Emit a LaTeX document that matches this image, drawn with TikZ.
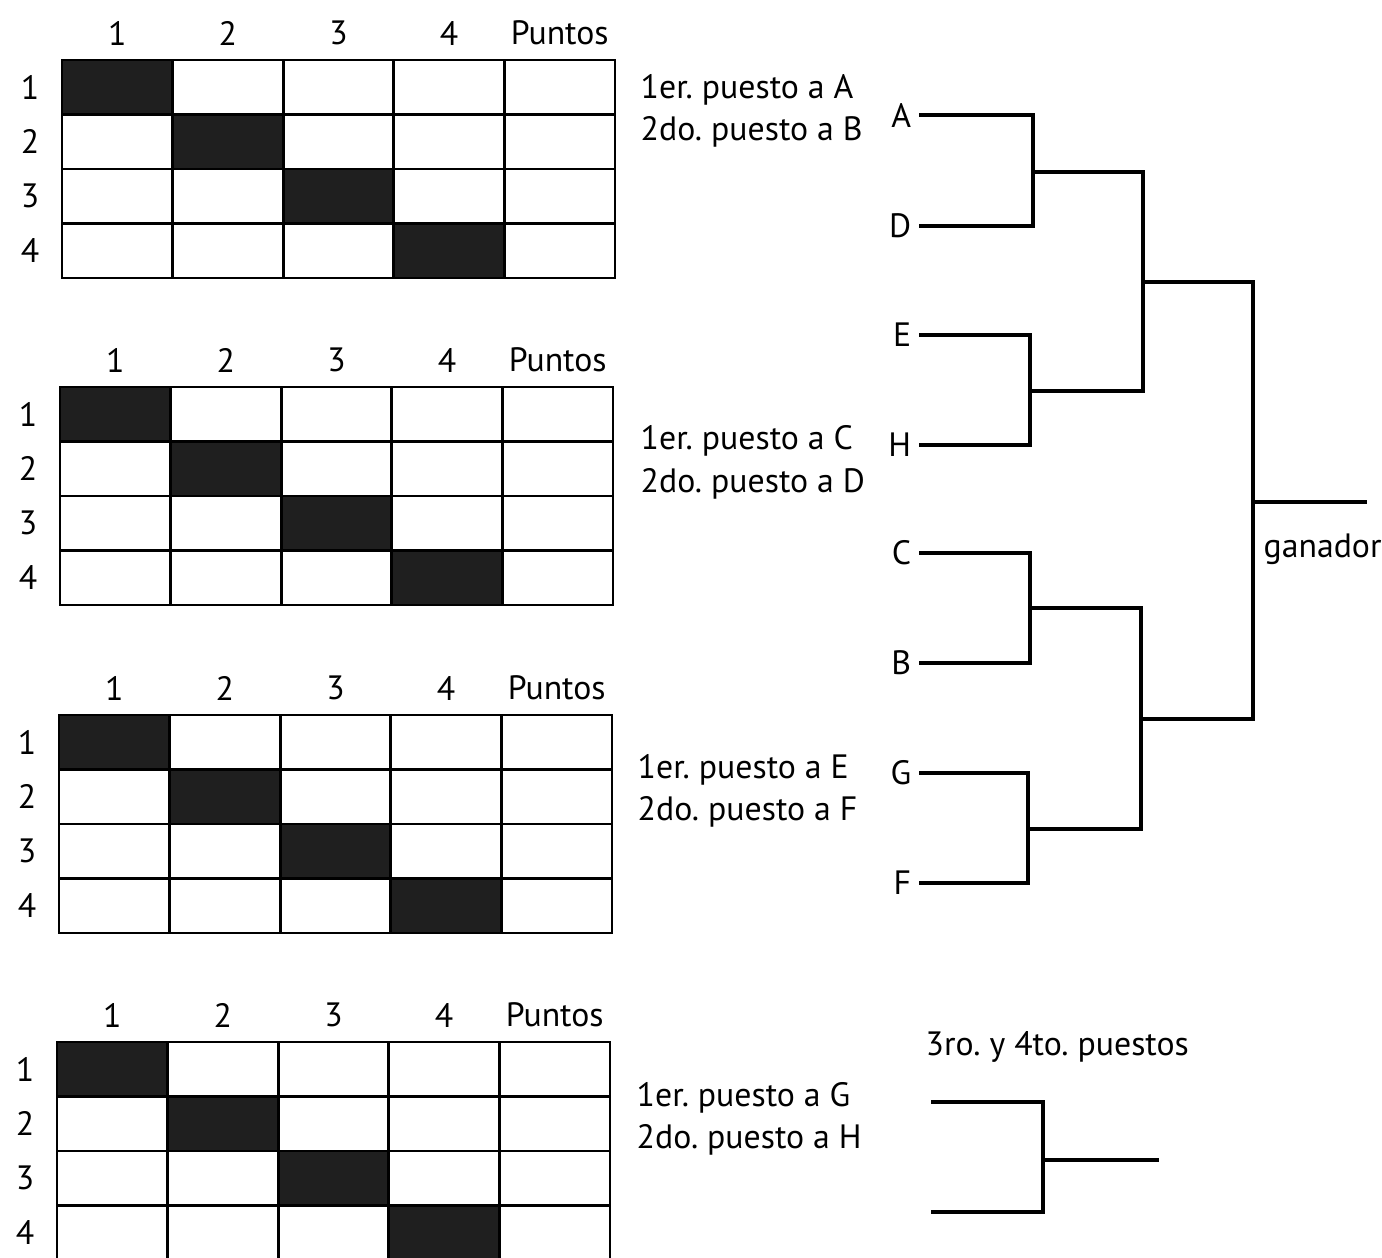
\documentclass[tikz,border=0pt]{standalone}
\usepackage{fontspec}
\setmainfont{PT Sans}
\frenchspacing
\tikzset{
  gridline/.style={line width=0.8pt, line cap=rect},
  darkcell/.style={fill=black!88},
  lbl/.style={font=\fontsize{9.6}{11.5}\selectfont, inner sep=0pt},
  team/.style={lbl, anchor=east, inner xsep=2.6pt},
  bline/.style={line width=0.9pt, line cap=rect},
}
\newcommand\rrtable[3]{%
  \foreach \i in {0,...,3}
    \fill[darkcell] ({#1+\i*110.6},{#2+\i*54.5}) rectangle ++(110.6,54.5);
  \foreach \i in {0,...,5}
    \draw[gridline] ({#1+\i*110.6},#2) -- ++(0,218);
  \foreach \j in {0,...,4}
    \draw[gridline] (#1,{#2+\j*54.5}) -- ++(553,0);
  \foreach \t [count=\k] in {1,2,3,4,Puntos}
    \node[lbl] (#3h\k) at ({#1+(\k-0.5)*110.6},{#2-27}) {\t};
  \foreach \k in {1,...,4}
    \node[lbl] (#3r\k) at ({#1-32},{#2+(\k-0.5)*54.5}) {\k};
}
\begin{document}
\begin{tikzpicture}[x=0.01cm, y=-0.01cm]
\useasboundingbox (0,0) rectangle (1382,1257);
% round-robin tables
\rrtable{62}{60}{ta}
\rrtable{60}{387}{tb}
\rrtable{59}{715}{tc}
\rrtable{57}{1042}{td}
% group results
\node[lbl, anchor=west] (ga1) at (640,90)  {1er. puesto a A};
\node[lbl, anchor=west] (ga2) at (640,132) {2do. puesto a B};
\node[lbl, anchor=west] (gb1) at (640,441) {1er. puesto a C};
\node[lbl, anchor=west] (gb2) at (640,484) {2do. puesto a D};
\node[lbl, anchor=west] (gc1) at (637,770) {1er. puesto a E};
\node[lbl, anchor=west] (gc2) at (637,812) {2do. puesto a F};
\node[lbl, anchor=west] (gd1) at (636,1098) {1er. puesto a G};
\node[lbl, anchor=west] (gd2) at (636,1140) {2do. puesto a H};
% bracket teams
\node[team] (A) at (921,115) {A};
\node[team] (D) at (921,226) {D};
\node[team] (E) at (921,335) {E};
\node[team] (H) at (921,445) {H};
\node[team] (C) at (921,553) {C};
\node[team] (B) at (921,663) {B};
\node[team] (G) at (921,773) {G};
\node[team] (F) at (921,883) {F};
% joints
\coordinate (j1) at (1033,172);
\coordinate (j2) at (1030,391);
\coordinate (j3) at (1030,608);
\coordinate (j4) at (1028,829);
\coordinate (k1) at (1143,282);
\coordinate (k2) at (1141,719);
\coordinate (m)  at (1253,502);
\coordinate (win) at (1365,502);
\draw[bline] (A.east) -| (j1);
\draw[bline] (D.east) -| (j1);
\draw[bline] (E.east) -| (j2);
\draw[bline] (H.east) -| (j2);
\draw[bline] (C.east) -| (j3);
\draw[bline] (B.east) -| (j3);
\draw[bline] (G.east) -| (j4);
\draw[bline] (F.east) -| (j4);
\draw[bline] (j1) -| (k1);
\draw[bline] (j2) -| (k1);
\draw[bline] (j3) -| (k2);
\draw[bline] (j4) -| (k2);
\draw[bline] (k1) -| (m);
\draw[bline] (k2) -| (m);
\draw[bline] (m) -- (win);
\node[lbl, anchor=west] (gan) at (1263,549) {ganador};
% third place
\node[lbl, anchor=west] (tp) at (925,1047) {3ro. y 4to. puestos};
\coordinate (t3a) at (933,1102);
\coordinate (t3b) at (933,1212);
\coordinate (j5) at (1043,1160);
\coordinate (t3w) at (1157,1160);
\draw[bline] (t3a) -| (j5);
\draw[bline] (t3b) -| (j5);
\draw[bline] (j5) -- (t3w);
\end{tikzpicture}
\end{document}
